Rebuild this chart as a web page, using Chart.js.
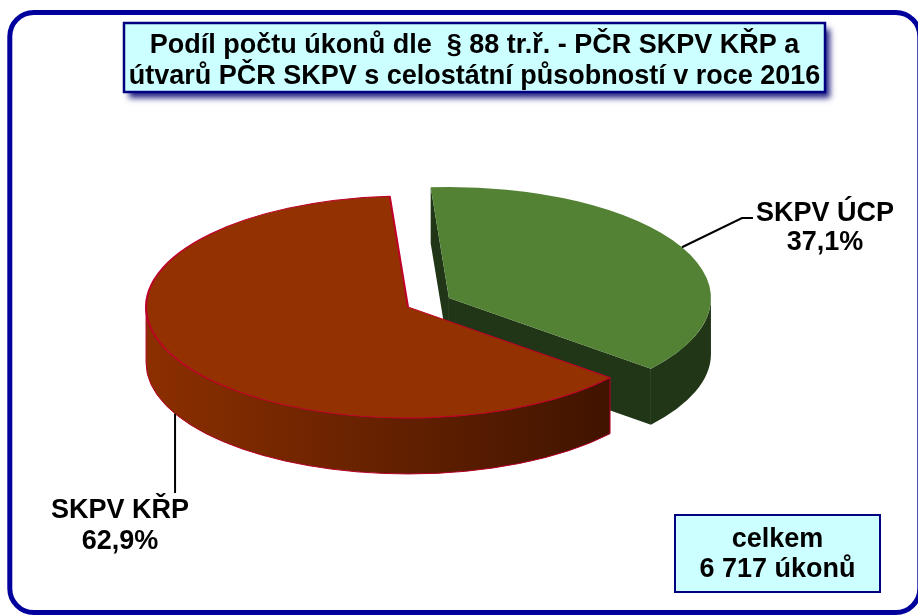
<!DOCTYPE html>
<html lang="cs">
<head>
<meta charset="utf-8">
<title>Podíl počtu úkonů dle § 88 tr.ř.</title>
<script src="https://cdn.jsdelivr.net/npm/chart.js@4.4.1/dist/chart.umd.min.js"></script>
<style>
  html, body { margin: 0; padding: 0; background: #fff; }
  #wrap { position: relative; width: 918px; height: 615px; }
</style>
</head>
<body>
<div id="wrap"><canvas id="chart"></canvas></div>
<script>
// ================= DATA =================
const labels = ['SKPV ÚCP', 'SKPV KŘP'];
const shares = [37.1, 62.9];
const titleLines = [
    'Podíl počtu úkonů dle  § 88 tr.ř. - PČR SKPV KŘP a',
    'útvarů PČR SKPV s celostátní působností v roce 2016'
];
const totalLines = ['celkem', '6 717 úkonů'];

// ================= 3D LOOK =================
const SQUASH = 0.4237;   // vertical tilt of the pie
const DEPTH = 56;        // slab thickness
const EXPLODE = 23;      // slice pull-out
const CENTER_Y = 302.5;  // screen y of pie centre
const FONT = 'bold 27px "Liberation Sans", Arial, sans-serif';

// screen geometry of an arc after the squash
function geo(chart, arc) {
    const cy = (chart.chartArea.top + chart.chartArea.bottom) / 2;
    return {
        x: arc.x,
        y: CENTER_Y + (arc.y - cy) * SQUASH,
        rx: arc.outerRadius,
        ry: arc.outerRadius * SQUASH,
        s: arc.startAngle,
        e: arc.endAngle
    };
}

function drawSide(ctx, g, i) {
    ctx.save();
    if (i === 1) {
        const grad = ctx.createLinearGradient(g.x - g.rx, 0, g.x + g.rx, 0);
        grad.addColorStop(0, '#8c2f00');
        grad.addColorStop(1, '#361000');
        ctx.fillStyle = grad;
    } else {
        ctx.fillStyle = '#213617';
    }

    // cut walls that face the viewer
    const walls = [];
    if (Math.cos(g.s) < 0) walls.push(g.s);
    if (Math.cos(g.e) > 0) walls.push(g.e);
    walls.forEach(a => {
        const px = g.x + g.rx * Math.cos(a), py = g.y + g.ry * Math.sin(a);
        ctx.beginPath();
        ctx.moveTo(g.x, g.y);
        ctx.lineTo(px, py);
        ctx.lineTo(px, py + DEPTH);
        ctx.lineTo(g.x, g.y + DEPTH);
        ctx.closePath();
        ctx.fill();
    });

    // outer rim, front half only
    const a0 = Math.max(g.s, 0), a1 = Math.min(g.e, Math.PI);
    if (a1 > a0) {
        ctx.beginPath();
        ctx.ellipse(g.x, g.y, g.rx, g.ry, 0, a0, a1);
        ctx.ellipse(g.x, g.y + DEPTH, g.rx, g.ry, 0, a1, a0, true);
        ctx.closePath();
        ctx.fill();
        if (i === 1) {
            ctx.strokeStyle = '#b8002a';
            ctx.lineWidth = 1;
            ctx.stroke();
        }
    }
    ctx.restore();
}

const pie3d = {
    id: 'pie3d',
    afterDatasetsUpdate(chart) {
        chart.getDatasetMeta(0).data.forEach(a => {
            const m = (a.startAngle + a.endAngle) / 2;
            a.x += Math.cos(m) * EXPLODE;
            a.y += Math.sin(m) * EXPLODE;
        });
    },
    beforeDatasetsDraw(chart) {
        const ctx = chart.ctx;
        const arcs = chart.getDatasetMeta(0).data;
        arcs.forEach((a, i) => drawSide(ctx, geo(chart, a), i));
        const cy = (chart.chartArea.top + chart.chartArea.bottom) / 2;
        ctx.save();
        ctx.translate(0, CENTER_Y);
        ctx.scale(1, SQUASH);
        ctx.translate(0, -cy);
    },
    afterDatasetsDraw(chart) {
        chart.ctx.restore();
    }
};

// ================= FRAME, TITLE, LABELS =================
const decor = {
    id: 'decor',
    afterDraw(chart) {
        const ctx = chart.ctx;
        ctx.save();

        // outer rounded frame
        ctx.lineWidth = 5;
        ctx.strokeStyle = '#00009c';
        ctx.beginPath();
        ctx.roundRect(9.8, 12.5, 910, 600, 24);
        ctx.stroke();

        // title box
        ctx.save();
        ctx.shadowColor = 'rgba(0, 0, 110, 0.85)';
        ctx.shadowBlur = 6;
        ctx.shadowOffsetX = 5;
        ctx.shadowOffsetY = 6;
        ctx.fillStyle = '#ccffff';
        ctx.fillRect(124, 23, 701, 69);
        ctx.restore();
        ctx.lineWidth = 2.5;
        ctx.strokeStyle = '#000080';
        ctx.strokeRect(124, 23, 701, 69);

        ctx.font = FONT;
        ctx.fillStyle = '#000';
        ctx.textAlign = 'center';
        ctx.textBaseline = 'alphabetic';
        ctx.fillText(titleLines[0], 474.5, 53);
        ctx.fillText(titleLines[1], 474.5, 84);

        // total box
        ctx.fillStyle = '#ccffff';
        ctx.fillRect(675, 515, 205, 77);
        ctx.lineWidth = 2;
        ctx.strokeStyle = '#000080';
        ctx.strokeRect(675, 515, 205, 77);
        ctx.fillStyle = '#000';
        ctx.fillText(totalLines[0], 777.5, 547);
        ctx.fillText(totalLines[1], 777.5, 577);

        // slice labels with leader lines
        const arcs = chart.getDatasetMeta(0).data;
        const pct = v => v.toFixed(1).replace('.', ',') + '%';
        ctx.strokeStyle = '#000';
        ctx.lineWidth = 2;

        const g0 = geo(chart, arcs[0]);
        const m0 = (g0.s + g0.e) / 2;
        ctx.beginPath();
        ctx.moveTo(g0.x + g0.rx * Math.cos(m0), g0.y + g0.ry * Math.sin(m0));
        ctx.lineTo(742, 218);
        ctx.lineTo(753, 218);
        ctx.stroke();
        ctx.fillText(labels[0], 825, 221);
        ctx.fillText(pct(shares[0]), 825, 250);

        const g1 = geo(chart, arcs[1]);
        const m1 = (g1.s + g1.e) / 2;
        const ax = g1.x + g1.rx * Math.cos(m1);
        ctx.beginPath();
        ctx.moveTo(ax, g1.y + g1.ry * Math.sin(m1) + DEPTH);
        ctx.lineTo(ax, 493);
        ctx.stroke();
        ctx.fillText(labels[1], 120, 518);
        ctx.fillText(pct(shares[1]), 120, 549);

        ctx.restore();
    }
};

// ================= CHART =================
Chart.defaults.font.family = '"Liberation Sans", Arial, sans-serif';

new Chart(document.getElementById('chart'), {
    type: 'pie',
    data: {
        labels: labels,
        datasets: [{
            data: shares,
            backgroundColor: ['#548235', '#943100'],
            borderColor: ['#548235', '#c0002a'],
            borderWidth: [0, 2]
        }]
    },
    options: {
        responsive: true,
        maintainAspectRatio: false,
        animation: false,
        events: [],
        rotation: -4,
        radius: 262,
        layout: { padding: { left: 0, right: 61, top: 0, bottom: 0 } },
        plugins: {
            legend: { display: false },
            tooltip: { enabled: false },
            title: { display: false }
        }
    },
    plugins: [pie3d, decor]
});
</script>
</body>
</html>
